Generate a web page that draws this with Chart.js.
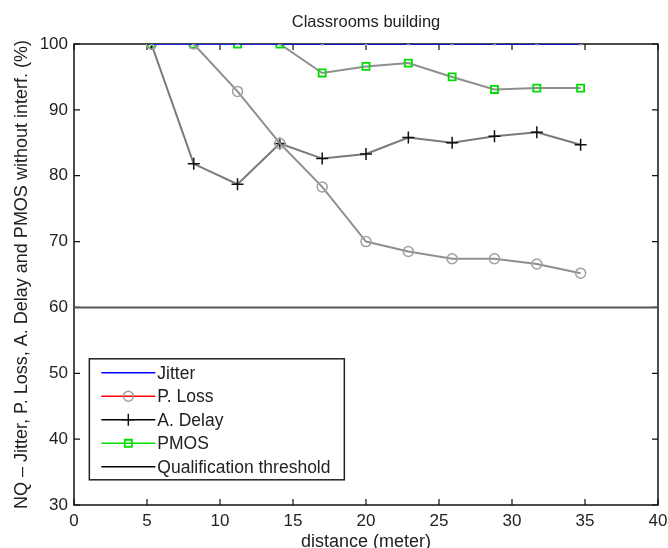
<!DOCTYPE html>
<html>
<head>
<meta charset="utf-8">
<script src="https://cdn.jsdelivr.net/npm/chart.js@4/dist/chart.umd.min.js"></script>
<style>
  html, body { margin: 0; padding: 0; background: #fff; }
  #wrap { width: 668px; height: 548px; }
</style>
</head>
<body>
<div id="wrap"><canvas id="nqChart" width="668" height="548"></canvas></div>
<script>
// distance (meter) of each measurement point
var distance = [5.3, 8.2, 11.2, 14.1, 17.0, 20.0, 22.9, 25.9, 28.8, 31.7, 34.7];
var jitter   = [100, 100, 100, 100, 100, 100, 100, 100, 100, 100, 100];
var pLoss    = [100, 100, 92.8, 84.9, 78.3, 70.0, 68.5, 67.4, 67.4, 66.6, 65.2];
var aDelay   = [100, 81.8, 78.7, 84.9, 82.6, 83.3, 85.8, 85.0, 86.0, 86.6, 84.7];
var pmos     = [100, 100, 100, 100, 95.6, 96.6, 97.1, 95.0, 93.1, 93.3, 93.3];
var threshold = 60;
var xTicks = [0, 5, 10, 15, 20, 25, 30, 35, 40];
var yTicks = [30, 40, 50, 60, 70, 80, 90, 100];

var seriesNames  = ["Jitter", "P. Loss", "A. Delay", "PMOS", "Qualification threshold"];
var legendColors = ["#0000ff", "#ff0000", "#000000", "#00dd00", "#000000"];

function pts(ys) {
  return distance.map(function (x, i) { return { x: x, y: ys[i] }; });
}

var FONT = "'Liberation Sans', Arial, sans-serif";

// matlab-like box with inward ticks (under the lines), title and legend on top
var axesBox = {
  id: "axesBox",
  beforeDatasetsDraw: function (chart) {
    var ctx = chart.ctx, a = chart.chartArea;
    var xs = chart.scales.x, ys = chart.scales.y;
    ctx.save();
    ctx.strokeStyle = "#111";
    ctx.lineWidth = 1.5;
    ctx.strokeRect(a.left, a.top, a.right - a.left, a.bottom - a.top);
    ctx.lineWidth = 1.2;
    ctx.beginPath();
    xTicks.forEach(function (t) {
      var px = xs.getPixelForValue(t);
      ctx.moveTo(px, a.bottom); ctx.lineTo(px, a.bottom - 6);
      ctx.moveTo(px, a.top); ctx.lineTo(px, a.top + 6);
    });
    yTicks.forEach(function (t) {
      var py = ys.getPixelForValue(t);
      ctx.moveTo(a.left, py); ctx.lineTo(a.left + 6, py);
      ctx.moveTo(a.right, py); ctx.lineTo(a.right - 6, py);
    });
    ctx.stroke();
    ctx.restore();
  },
  afterDatasetsDraw: function (chart) {
    var ctx = chart.ctx, a = chart.chartArea;
    var xs = chart.scales.x, ys = chart.scales.y;
    ctx.save();
    // title
    ctx.fillStyle = "#222";
    ctx.font = "16.5px " + FONT;
    ctx.textAlign = "center";
    ctx.textBaseline = "middle";
    ctx.fillText("Classrooms building", (a.left + a.right) / 2, 22);

    // legend
    var lx = xs.getPixelForValue(1.05), ly = ys.getPixelForValue(52.2);
    var lw = 255, lh = 121;
    ctx.fillStyle = "#fff";
    ctx.fillRect(lx, ly, lw, lh);
    ctx.strokeStyle = "#222";
    ctx.lineWidth = 1.5;
    ctx.strokeRect(lx, ly, lw, lh);
    ctx.font = "17.5px " + FONT;
    ctx.textAlign = "left";
    chart.data.datasets.forEach(function (ds, i) {
      var y = ly + 14 + i * 23.5;
      var x0 = lx + 12, x1 = lx + 66, xm = (x0 + x1) / 2;
      ctx.strokeStyle = legendColors[i];
      ctx.lineWidth = 1.5;
      ctx.beginPath(); ctx.moveTo(x0, y); ctx.lineTo(x1, y); ctx.stroke();
      if (ds.pointStyle && ds.pointRadius > 2) {
        ctx.strokeStyle = ds.pointBorderColor;
        ctx.fillStyle = "rgba(255,255,255,0)";
        ctx.lineWidth = ds.pointBorderWidth;
        Chart.helpers.drawPoint(ctx, { pointStyle: ds.pointStyle, radius: ds.pointRadius, borderWidth: ds.pointBorderWidth, rotation: 0 }, xm, y);
      }
      ctx.fillStyle = "#222";
      ctx.fillText(ds.label, x1 + 2, y + 1);
    });
    ctx.restore();
  }
};

new Chart(document.getElementById("nqChart"), {
  type: "line",
  data: {
    datasets: [{
      label: seriesNames[0],
      data: pts(jitter),
      borderColor: "#0000ff",
      borderWidth: 1.5,
      pointStyle: "circle",
      pointRadius: 1.2,
      pointBorderColor: "#9999cc",
      pointBackgroundColor: "#9999cc",
      pointBorderWidth: 1
    }, {
      label: seriesNames[1],
      data: pts(pLoss),
      borderColor: "#8f8f8f",
      borderWidth: 2,
      pointStyle: "circle",
      pointRadius: 5,
      pointBorderColor: "#a0a0a0",
      pointBackgroundColor: "rgba(255,255,255,0)",
      pointBorderWidth: 1.5
    }, {
      label: seriesNames[2],
      data: pts(aDelay),
      borderColor: "#7a7a7a",
      borderWidth: 2,
      pointStyle: "cross",
      pointRadius: 6,
      pointBorderColor: "#111",
      pointBorderWidth: 1.5
    }, {
      label: seriesNames[3],
      data: pts(pmos),
      borderColor: "#8f8f8f",
      borderWidth: 2,
      pointStyle: "rect",
      pointRadius: 5,
      pointBorderColor: "#00dd00",
      pointBackgroundColor: "rgba(255,255,255,0)",
      pointBorderWidth: 1.8
    }, {
      label: seriesNames[4],
      data: [{ x: 0, y: threshold }, { x: 40, y: threshold }],
      borderColor: "#555",
      borderWidth: 2,
      pointRadius: 0
    }]
  },
  options: {
    responsive: false,
    animation: false,
    layout: { padding: { left: 0, right: 0, top: 44, bottom: 0 } },
    plugins: { legend: { display: false }, tooltip: { enabled: false }, title: { display: false } },
    scales: {
      x: {
        type: "linear",
        min: 0, max: 40,
        afterBuildTicks: function (s) { s.ticks = xTicks.map(function (v) { return { value: v }; }); },
        afterFit: function (s) { s.height = 43; s.paddingRight = 10; s.paddingLeft = 0; },
        grid: { display: false, drawTicks: false },
        border: { display: false },
        ticks: { color: "#222", font: { family: FONT, size: 17 }, padding: 6 },
        title: { display: true, text: "distance (meter)", color: "#222", font: { family: FONT, size: 18 }, padding: { top: 0, bottom: -5 } }
      },
      y: {
        type: "linear",
        min: 30, max: 100,
        afterBuildTicks: function (s) { s.ticks = yTicks.map(function (v) { return { value: v }; }); },
        afterFit: function (s) { s.width = 74; },
        grid: { display: false, drawTicks: false },
        border: { display: false },
        ticks: { color: "#222", font: { family: FONT, size: 17 }, padding: 6 },
        title: { display: true, text: "NQ \u2013 Jitter, P. Loss, A. Delay and PMOS without interf. (%)", color: "#222", font: { family: FONT, size: 18 }, padding: { top: 11, bottom: 0 } }
      }
    }
  },
  plugins: [axesBox]
});
</script>
</body>
</html>
